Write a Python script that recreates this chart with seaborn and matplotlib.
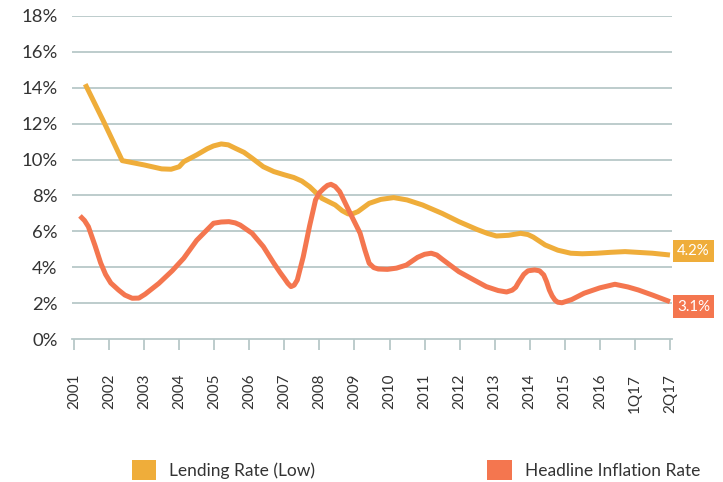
import matplotlib
matplotlib.use("Agg")
import matplotlib.pyplot as plt
from matplotlib.patches import Patch
import seaborn as sns
import pandas as pd

# ---- data ----
tick_labels = ["2001", "2002", "2003", "2004", "2005", "2006", "2007", "2008", "2009",
               "2010", "2011", "2012", "2013", "2014", "2015", "2016", "1Q17", "2Q17"]

lend_name = "Lending Rate (Low)"
infl_name = "Headline Inflation Rate"

# x measured in tick-index units (0 = 2001 ... 17 = 2Q17)
lend_x = [0.32, 0.85, 1.375, 2.0, 2.5, 2.77, 3.0, 3.13, 3.5, 3.8, 3.98, 4.2, 4.4, 4.6, 4.85,
          5.07, 5.4, 5.7, 6.0, 6.27, 6.5, 6.72, 7.07, 7.45, 7.65, 7.82, 7.95, 8.1, 8.42,
          8.75, 9.12, 9.5, 9.94, 10.5, 10.98, 11.5, 11.8, 12.05, 12.4, 12.74, 12.95, 13.1,
          13.44, 13.8, 14.17, 14.5, 14.92, 15.3, 15.72, 16.5, 17.0]
lend_y = [14.2, 12.1, 9.94, 9.7, 9.48, 9.46, 9.6, 9.88, 10.26, 10.6, 10.76, 10.87, 10.82, 10.63,
          10.4, 10.09, 9.6, 9.33, 9.15, 9.0, 8.8, 8.49, 7.84, 7.47, 7.15, 6.97, 6.98, 7.1, 7.56,
          7.78, 7.88, 7.75, 7.47, 7.0, 6.54, 6.1, 5.88, 5.74, 5.78, 5.89, 5.82, 5.68,
          5.24, 4.95, 4.78, 4.75, 4.78, 4.83, 4.87, 4.78, 4.68]

infl_x = [0.17, 0.3, 0.41, 0.6, 0.76, 0.9, 1.05, 1.27, 1.45, 1.66, 1.85, 2.03, 2.42, 2.8,
          3.13, 3.5, 3.98, 4.2, 4.42, 4.6, 4.74, 5.08, 5.4, 5.7, 5.88, 6.0, 6.1, 6.19, 6.28,
          6.37, 6.54, 6.72, 6.89, 7.0, 7.13, 7.23, 7.33, 7.45, 7.58, 7.88, 8.16, 8.3, 8.42,
          8.55, 8.68, 8.94, 9.2, 9.48, 9.8, 10.0, 10.19, 10.35, 10.5, 10.98, 11.4, 11.76,
          12.1, 12.34, 12.5, 12.6, 12.68, 12.83, 12.95, 13.14, 13.28, 13.4, 13.48, 13.56,
          13.64, 13.72, 13.8, 13.92, 14.2, 14.55, 15.0, 15.43, 15.8, 16.1, 16.5, 17.0]
infl_y = [6.86, 6.6, 6.26, 5.2, 4.24, 3.6, 3.12, 2.73, 2.45, 2.27, 2.28, 2.5, 3.1, 3.8,
          4.5, 5.5, 6.45, 6.52, 6.54, 6.47, 6.35, 5.89, 5.15, 4.22, 3.7, 3.38, 3.1, 2.92, 3.0,
          3.29, 4.59, 6.3, 7.75, 8.15, 8.4, 8.56, 8.62, 8.5, 8.21, 7.0, 5.9, 4.95, 4.22,
          3.98, 3.9, 3.88, 3.95, 4.12, 4.55, 4.72, 4.78, 4.68, 4.45, 3.75, 3.3, 2.92,
          2.7, 2.62, 2.72, 2.88, 3.15, 3.6, 3.8, 3.85, 3.8, 3.57, 3.2, 2.73,
          2.4, 2.17, 2.05, 2.02, 2.2, 2.55, 2.85, 3.05, 2.9, 2.73, 2.45, 2.08]

end_labels = {lend_name: "4.2%", infl_name: "3.1%"}
y_ticks = [0, 2, 4, 6, 8, 10, 12, 14, 16, 18]

# ---- style ----
colors = {lend_name: "#EFAD3A", infl_name: "#F4764F"}
grid_col = "#B7C8C8"
text_col = "#333333"

sns.set_theme(style="white")
plt.rcParams["font.family"] = ["Lato", "DejaVu Sans"]

df = pd.concat([
    pd.DataFrame({"x": lend_x, "value": lend_y, "series": lend_name}),
    pd.DataFrame({"x": infl_x, "value": infl_y, "series": infl_name}),
], ignore_index=True)

fig = plt.figure(figsize=(7.23, 4.82), dpi=100)
ax = fig.add_axes([71.7 / 723, 1 - 339 / 482, 600 / 723, 323 / 482])

sns.lineplot(data=df, x="x", y="value", hue="series", palette=colors,
             estimator=None, sort=False, legend=False, linewidth=3.6, ax=ax)
for ln in ax.lines:
    ln.set_solid_joinstyle("round")
    ln.set_solid_capstyle("butt")

ax.set_xlim(-0.066, 17.05)
ax.set_ylim(0, 18)
ax.set_yticks(y_ticks)
ax.set_yticklabels([f"{v}%" for v in y_ticks])
ax.set_xticks(range(len(tick_labels)))
ax.set_xticklabels(tick_labels, rotation=90)
ax.set_xlabel("")
ax.set_ylabel("")

for y in y_ticks[1:]:
    ax.axhline(y, color=grid_col, linewidth=1.3, zorder=0)

for s in ["top", "right", "left"]:
    ax.spines[s].set_visible(False)
ax.spines["bottom"].set_color(grid_col)
ax.spines["bottom"].set_linewidth(1.3)

ax.tick_params(axis="y", length=0, pad=10, labelsize=13.3, labelcolor=text_col)
ax.tick_params(axis="x", bottom=True, direction="out", length=8, width=1.3,
               color=grid_col, pad=17, labelsize=11, labelcolor=text_col)

# end labels
offsets = {lend_name: 2.7, infl_name: -3.6}
for name, xs, ys in [(lend_name, lend_x, lend_y), (infl_name, infl_x, infl_y)]:
    ax.annotate(end_labels[name], xy=(xs[-1], ys[-1]), xytext=(5.0, offsets[name]),
                textcoords="offset points", ha="left", va="center",
                fontsize=10.8, color="white",
                bbox=dict(boxstyle="square,pad=0.28", fc=colors[name], ec="none"),
                annotation_clip=False, zorder=5)

# legend
handles = [Patch(facecolor=colors[lend_name], edgecolor="none", label=lend_name),
           Patch(facecolor=colors[infl_name], edgecolor="none", label=infl_name)]
fs = 12.5
fig.legend(handles=handles, loc="center left", bbox_to_anchor=(132 / 723, 1 - 470 / 482),
           ncol=2, frameon=False, fontsize=fs, handlelength=1.4, handleheight=1.35,
           handletextpad=0.75, columnspacing=9.9, borderpad=0, borderaxespad=0,
           labelcolor=text_col)

fig.savefig("out.png", dpi=100)
